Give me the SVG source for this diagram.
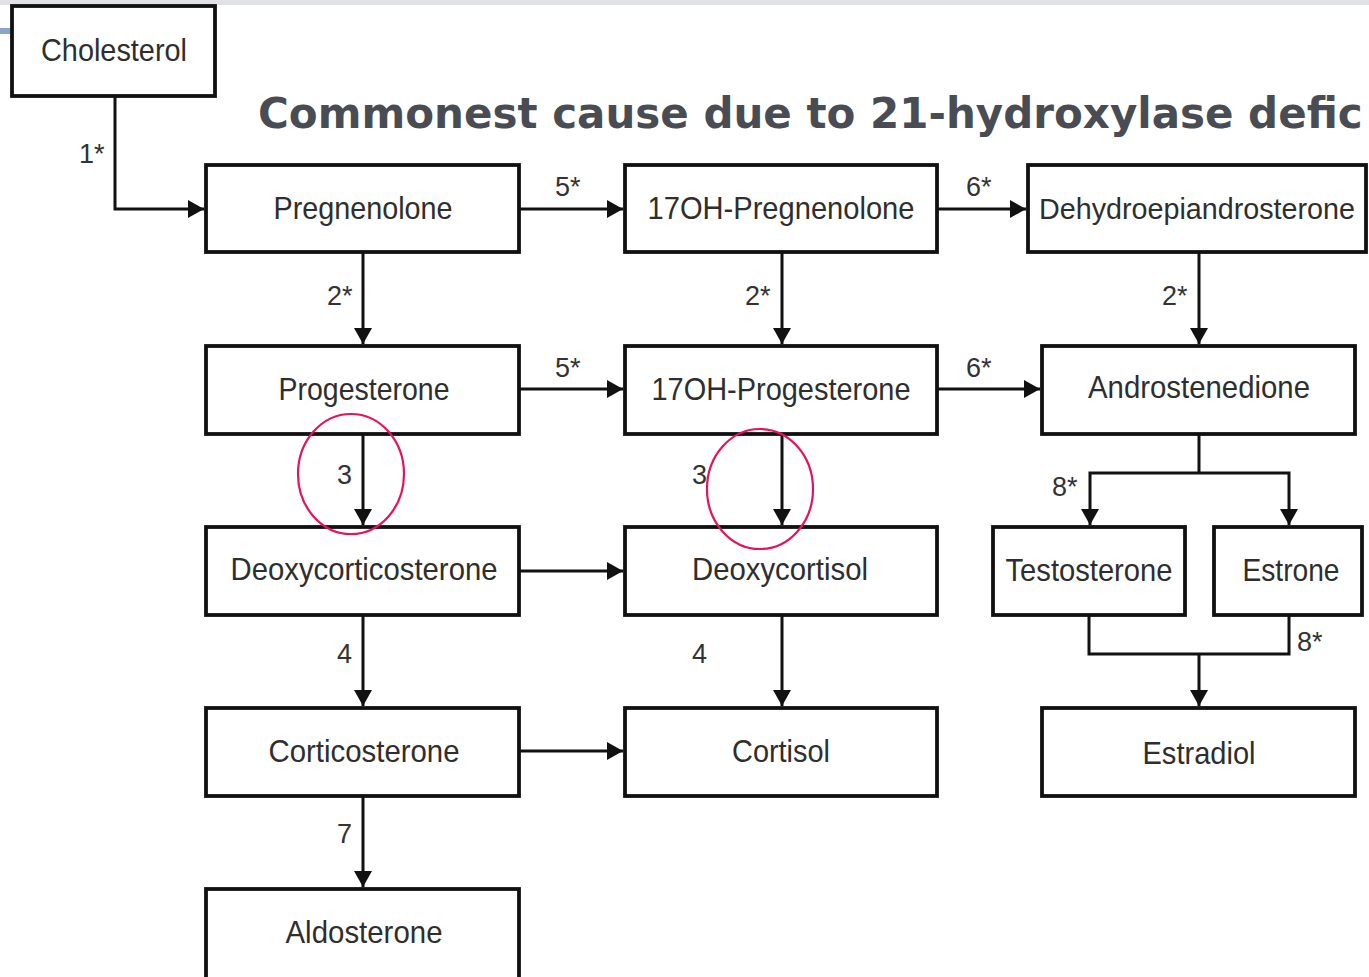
<svg xmlns="http://www.w3.org/2000/svg" width="1369" height="977" viewBox="0 0 1369 977">
  <style>
    .box { fill: #ffffff; stroke: #111111; stroke-width: 3.8; }
    .name { font-family: "Liberation Sans", Arial, sans-serif; font-size: 32px; fill: #2e2e2e; text-anchor: middle; }
    .step { font-family: "Liberation Sans", Arial, sans-serif; font-size: 27px; fill: #333333; }
    .wire { fill: none; stroke: #111111; stroke-width: 3; }
    .mark { fill: none; stroke: #e8125c; stroke-width: 2.2; }
    .title { font-family: "DejaVu Sans", Verdana, sans-serif; font-weight: bold; font-size: 42px; fill: #4a4c54; }
  </style>
  <defs>
    <marker id="arr" viewBox="0 0 16 18" refX="16" refY="9" markerWidth="16" markerHeight="18" markerUnits="userSpaceOnUse" orient="auto">
      <path d="M0,0 L16,9 L0,18 Z" fill="#111111"/>
    </marker>
  </defs>

  <!-- page background and slide chrome -->
  <rect x="0" y="0" width="1369" height="977" fill="#ffffff"/>
  <rect x="0" y="0" width="1369" height="5" fill="#e1e2e6"/>
  <rect x="0" y="28" width="14" height="6" fill="#86a6ce"/>

  <text class="title" x="258" y="128">Commonest cause due to 21-hydroxylase defic</text>

  <!-- pathway connectors -->
  <g id="connectors">
    <path class="wire" d="M115,96 V209 H204" marker-end="url(#arr)"/>
    <path class="wire" d="M519,209 H623" marker-end="url(#arr)"/>
    <path class="wire" d="M937,209 H1026" marker-end="url(#arr)"/>
    <path class="wire" d="M363,252 V344" marker-end="url(#arr)"/>
    <path class="wire" d="M782,252 V344" marker-end="url(#arr)"/>
    <path class="wire" d="M1199,252 V344" marker-end="url(#arr)"/>
    <path class="wire" d="M519,389 H623" marker-end="url(#arr)"/>
    <path class="wire" d="M937,389 H1040" marker-end="url(#arr)"/>
    <path class="wire" d="M363,434 V525" marker-end="url(#arr)"/>
    <path class="wire" d="M782,434 V525" marker-end="url(#arr)"/>
    <path class="wire" d="M519,571 H623" marker-end="url(#arr)"/>
    <path class="wire" d="M363,615 V706" marker-end="url(#arr)"/>
    <path class="wire" d="M782,615 V706" marker-end="url(#arr)"/>
    <path class="wire" d="M519,751 H623" marker-end="url(#arr)"/>
    <path class="wire" d="M363,796 V887" marker-end="url(#arr)"/>
    <path class="wire" d="M1199,434 V473"/>
    <path class="wire" d="M1199,473 H1090 V525" marker-end="url(#arr)"/>
    <path class="wire" d="M1199,473 H1289 V525" marker-end="url(#arr)"/>
    <path class="wire" d="M1089,615 V654 H1289 V615"/>
    <path class="wire" d="M1199,654 V706" marker-end="url(#arr)"/>

    <text class="step" x="79" y="163">1*</text>
    <text class="step" x="555" y="196">5*</text>
    <text class="step" x="966" y="196">6*</text>
    <text class="step" x="327" y="305">2*</text>
    <text class="step" x="745" y="305">2*</text>
    <text class="step" x="1162" y="305">2*</text>
    <text class="step" x="555" y="377">5*</text>
    <text class="step" x="966" y="377">6*</text>
    <text class="step" x="337" y="484">3</text>
    <text class="step" x="692" y="484">3</text>
    <text class="step" x="1052" y="496">8*</text>
    <text class="step" x="337" y="663">4</text>
    <text class="step" x="692" y="663">4</text>
    <text class="step" x="1297" y="651">8*</text>
    <text class="step" x="337" y="843">7</text>
  </g>

  <!-- steroid nodes -->
  <g id="cholesterol"><rect class="box" x="12" y="6" width="203" height="90"/><text class="name" x="114" y="61" textLength="146" lengthAdjust="spacingAndGlyphs">Cholesterol</text></g>
  <g id="pregnenolone"><rect class="box" x="206" y="165" width="313" height="87"/><text class="name" x="363" y="219" textLength="179" lengthAdjust="spacingAndGlyphs">Pregnenolone</text></g>
  <g id="oh17-pregnenolone"><rect class="box" x="625" y="165" width="312" height="87"/><text class="name" x="781" y="219" textLength="267" lengthAdjust="spacingAndGlyphs">17OH-Pregnenolone</text></g>
  <g id="dhea"><rect class="box" x="1028" y="165" width="338" height="87"/><text class="name" x="1197" y="219" style="font-size:30px" textLength="316" lengthAdjust="spacingAndGlyphs">Dehydroepiandrosterone</text></g>
  <g id="progesterone"><rect class="box" x="206" y="346" width="313" height="88"/><text class="name" x="364" y="400" textLength="171" lengthAdjust="spacingAndGlyphs">Progesterone</text></g>
  <g id="oh17-progesterone"><rect class="box" x="625" y="346" width="312" height="88"/><text class="name" x="781" y="400" textLength="259" lengthAdjust="spacingAndGlyphs">17OH-Progesterone</text></g>
  <g id="androstenedione"><rect class="box" x="1042" y="346" width="313" height="88"/><text class="name" x="1199" y="398" textLength="222" lengthAdjust="spacingAndGlyphs">Androstenedione</text></g>
  <g id="deoxycorticosterone"><rect class="box" x="206" y="527" width="313" height="88"/><text class="name" x="364" y="580" textLength="267" lengthAdjust="spacingAndGlyphs">Deoxycorticosterone</text></g>
  <g id="deoxycortisol"><rect class="box" x="625" y="527" width="312" height="88"/><text class="name" x="780" y="580" textLength="176" lengthAdjust="spacingAndGlyphs">Deoxycortisol</text></g>
  <g id="testosterone"><rect class="box" x="993" y="527" width="192" height="88"/><text class="name" x="1089" y="581" textLength="167" lengthAdjust="spacingAndGlyphs">Testosterone</text></g>
  <g id="estrone"><rect class="box" x="1214" y="527" width="148" height="88"/><text class="name" x="1291" y="581" textLength="97" lengthAdjust="spacingAndGlyphs">Estrone</text></g>
  <g id="corticosterone"><rect class="box" x="206" y="708" width="313" height="88"/><text class="name" x="364" y="762" textLength="191" lengthAdjust="spacingAndGlyphs">Corticosterone</text></g>
  <g id="cortisol"><rect class="box" x="625" y="708" width="312" height="88"/><text class="name" x="781" y="762" textLength="98" lengthAdjust="spacingAndGlyphs">Cortisol</text></g>
  <g id="estradiol"><rect class="box" x="1042" y="708" width="313" height="88"/><text class="name" x="1199" y="764" textLength="113" lengthAdjust="spacingAndGlyphs">Estradiol</text></g>
  <g id="aldosterone"><rect class="box" x="206" y="889" width="313" height="92"/><text class="name" x="364" y="943" textLength="157" lengthAdjust="spacingAndGlyphs">Aldosterone</text></g>

  <!-- highlighted 21-hydroxylase steps -->
  <g id="highlight">
    <ellipse class="mark" cx="351" cy="474" rx="53" ry="60"/>
    <ellipse class="mark" cx="760" cy="489" rx="53" ry="60"/>
  </g>
</svg>
